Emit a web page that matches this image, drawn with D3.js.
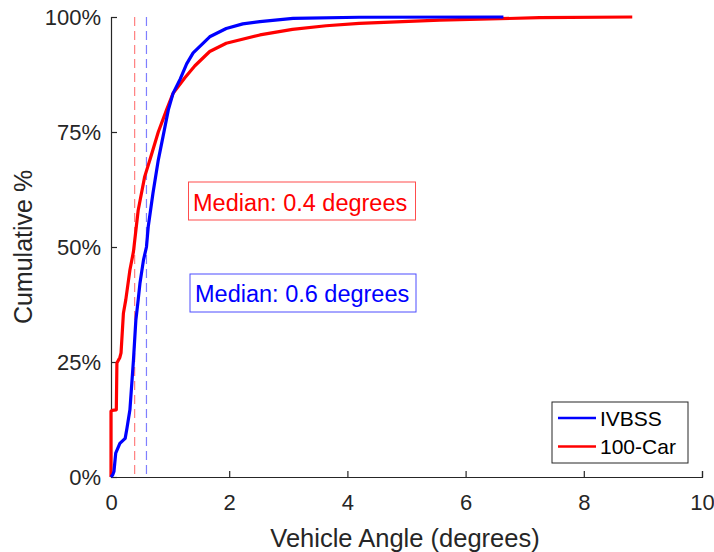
<!DOCTYPE html>
<html>
<head>
<meta charset="utf-8">
<script src="https://cdn.jsdelivr.net/npm/d3@7/dist/d3.min.js"></script>
<style>
  html, body { margin: 0; padding: 0; background: #fff; }
  svg { display: block; font-family: "Liberation Sans", Arial, Helvetica, sans-serif; }
</style>
</head>
<body>
<svg id="chart" width="714" height="552"></svg>
<script>
// Cumulative distribution of vehicle angle (degrees) for two naturalistic driving studies
const ivbssAngle = [0, 0.03, 0.05, 0.08, 0.15, 0.24, 0.27, 0.32, 0.38, 0.42, 0.46, 0.49, 0.55, 0.60, 0.63, 0.71, 0.80, 0.88, 0.97, 1.05, 1.17, 1.28, 1.39, 1.67, 1.95, 2.23, 2.52, 3.08, 4.2, 6.64];
const ivbssPct   = [0, 0.5, 1.2, 5.2, 7.3, 8.4, 10.6, 14.6, 25.4, 34, 38.5, 42.1, 47.2, 50, 54.4, 61.7, 68.9, 74, 79.8, 83.4, 86.5, 89.8, 92.2, 95.7, 97.5, 98.5, 99.0, 99.7, 99.95, 100];

const carAngle = [0, 0, 0.02, 0.09, 0.10, 0.15, 0.17, 0.21, 0.25, 0.32, 0.38, 0.46, 0.57, 0.66, 0.80, 0.94, 1.05, 1.25, 1.42, 1.67, 1.95, 2.52, 3.07, 3.64, 4.2, 5.56, 7.25, 8.82];
const carPct   = [0, 14.3, 14.5, 14.6, 24.8, 26, 27, 35.6, 38.5, 45, 49, 58, 65.3, 69, 75, 79.8, 83.4, 86.8, 89.4, 92.5, 94.3, 96.1, 97.3, 98.1, 98.6, 99.3, 99.85, 100];

const seriesNames  = ["IVBSS", "100-Car"];
const seriesColors = ["#0000ff", "#ff0000"];
const medians      = [0.6, 0.4];

const xTicks = [0, 2, 4, 6, 8, 10];
const yTicks = [0, 25, 50, 75, 100];
const yTickLabels = ["0%", "25%", "50%", "75%", "100%"];

const svg = d3.select("#chart");
const axisColor = "#262626";

const x = d3.scaleLinear().domain([0, 10]).range([111, 702]);
const y = d3.scaleLinear().domain([0, 100]).range([477, 17]);

// axes with inward ticks
const xAxis = d3.axisBottom(x).tickValues(xTicks).tickSize(-6).tickPadding(17).tickFormat(d3.format("d"));
const yAxis = d3.axisLeft(y).tickValues(yTicks).tickSize(-6).tickPadding(10).tickFormat((d, i) => yTickLabels[i]);

const gx = svg.append("g").attr("transform", `translate(0,${y(0)})`).call(xAxis);
const gy = svg.append("g").attr("transform", `translate(${x(0)},0)`).call(yAxis);
[gx, gy].forEach(g => {
  g.select(".domain").attr("stroke", axisColor).attr("stroke-width", 1.2);
  g.selectAll(".tick line").attr("stroke", axisColor).attr("stroke-width", 1.2);
  g.selectAll(".tick text").attr("fill", axisColor).style("font-size", "22px")
   .style("font-family", "'Liberation Sans', Arial, sans-serif");
});
gx.selectAll(".tick text").attr("dy", "0.71em");
gy.selectAll(".tick text").attr("dy", "0.36em");

// median reference lines
medians.forEach((m, i) => {
  svg.append("line")
    .attr("x1", x(m)).attr("x2", x(m))
    .attr("y1", y(100)).attr("y2", y(0))
    .attr("stroke", seriesColors[i]).attr("stroke-opacity", 0.5)
    .attr("stroke-width", 1.2).attr("stroke-dasharray", "9,5");
});

// CDF curves
const line = d3.line().x(d => x(d[0])).y(d => y(d[1]));
const curves = [
  d3.zip(ivbssAngle, ivbssPct),
  d3.zip(carAngle, carPct)
];
// draw 100-Car first, then IVBSS on top
[1, 0].forEach(i => {
  svg.append("path")
    .datum(curves[i])
    .attr("fill", "none")
    .attr("stroke", seriesColors[i])
    .attr("stroke-width", 3.2)
    .attr("stroke-linejoin", "round")
    .attr("d", line);
});

// median annotation boxes
const notes = [
  { text: "Median: 0.4 degrees", color: "#ff0000", border: "#ff4d4d", x: 188.5, y: 182, w: 227, h: 38, tx: 193, ty: 211 },
  { text: "Median: 0.6 degrees", color: "#0000ff", border: "#4d4dff", x: 190, y: 274, w: 226, h: 38, tx: 195, ty: 302 }
];
notes.forEach(n => {
  svg.append("rect").attr("x", n.x).attr("y", n.y).attr("width", n.w).attr("height", n.h)
    .attr("fill", "#fff").attr("stroke", n.border).attr("stroke-width", 1);
  svg.append("text").attr("x", n.tx).attr("y", n.ty).attr("fill", n.color)
    .style("font-size", "23.5px").text(n.text);
});

// axis titles
svg.append("text")
  .attr("x", 405).attr("y", 547)
  .attr("text-anchor", "middle").attr("fill", axisColor)
  .style("font-size", "25.5px").text("Vehicle Angle (degrees)");
svg.append("text")
  .attr("transform", `translate(32,${(y(0) + y(100)) / 2}) rotate(-90)`)
  .attr("text-anchor", "middle").attr("fill", axisColor)
  .style("font-size", "25px").text("Cumulative %");

// legend
const lg = svg.append("g");
lg.append("rect").attr("x", 552).attr("y", 402).attr("width", 136).attr("height", 61)
  .attr("fill", "#fff").attr("stroke", axisColor).attr("stroke-width", 1);
seriesNames.forEach((name, i) => {
  const ly = 418 + i * 28.5;
  lg.append("line").attr("x1", 558).attr("x2", 596).attr("y1", ly).attr("y2", ly)
    .attr("stroke", seriesColors[i]).attr("stroke-width", 2.5);
  lg.append("text").attr("x", 600).attr("y", ly).attr("dy", "0.36em")
    .attr("fill", "#000").style("font-size", "21px").text(name);
});
</script>
</body>
</html>
